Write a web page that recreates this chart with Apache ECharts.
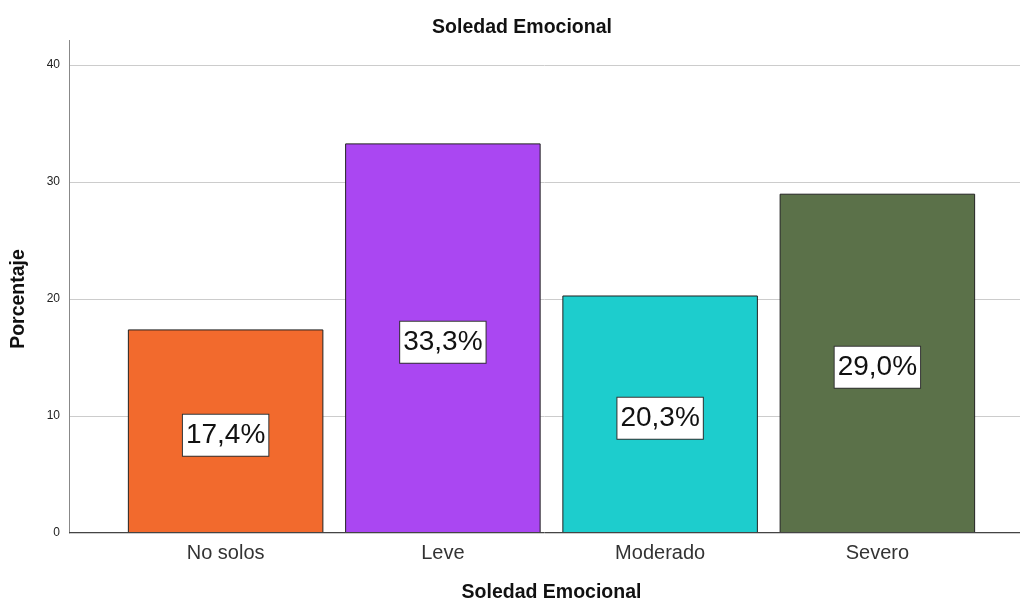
<!DOCTYPE html>
<html><head><meta charset="utf-8">
<script src="https://cdn.jsdelivr.net/npm/echarts@6/dist/echarts.min.js"></script>
<style>html,body{margin:0;padding:0;background:#fff}#c{width:1023px;height:603px}</style>
</head><body><div id="c"></div>
<script>
const categories = ['No solos', 'Leve', 'Moderado', 'Severo'];
const values = [17.4, 33.3, 20.3, 29.0];
const colors = ['#f26a2d', '#aa47f2', '#1dcdcd', '#5b7149'];
const yTicks = [0, 10, 20, 30, 40];

const chart = echarts.init(document.getElementById('c'), null, {renderer: 'canvas'});
const font = '"Liberation Sans", Arial, sans-serif';
chart.setOption({
  animation: false,
  title: {text: 'Soledad Emocional', left: 517, top: 13, textAlign: 'center',
    textStyle: {fontFamily: font, fontSize: 19.5, fontWeight: 'bold', color: '#111'}},
  grid: [
    {left: 69, right: 3, top: 65, bottom: 70, outerBoundsMode: 'none', containLabel: false},
    {left: 117, right: 37, top: 65, bottom: 70, outerBoundsMode: 'none', containLabel: false}
  ],
  xAxis: [
    {type: 'category', gridIndex: 0, data: categories, show: false},
    {type: 'category', gridIndex: 1, data: categories,
      axisLine: {show: false}, axisTick: {show: false},
      axisLabel: {fontFamily: font, fontSize: 20, color: '#333', margin: 10},
      name: 'Soledad Emocional', nameLocation: 'middle', nameGap: 50,
      nameTextStyle: {fontFamily: font, fontSize: 19.5, fontWeight: 'bold', color: '#111'}}
  ],
  yAxis: [
    {type: 'value', gridIndex: 0, min: 0, max: 40, interval: 10,
      axisLine: {show: true, lineStyle: {color: '#888', width: 1}},
      axisTick: {show: false},
      axisLabel: {fontFamily: font, fontSize: 12, color: '#222', margin: 9},
      splitLine: {show: true, lineStyle: {color: '#cccccc', width: 1}},
      name: 'Porcentaje', nameLocation: 'middle', nameGap: 40,
      nameTextStyle: {fontFamily: font, fontSize: 19.5, fontWeight: 'bold', color: '#111'}},
    {type: 'value', gridIndex: 1, min: 0, max: 40, interval: 10, show: false}
  ],
  series: [
    {type: 'bar', xAxisIndex: 1, yAxisIndex: 1, barCategoryGap: '10%',
      data: values.map((v, i) => ({value: v, itemStyle: {color: colors[i]}})),
      itemStyle: {borderColor: '#222', borderWidth: 1},
      label: {show: true, position: 'inside', offset: [0, 4],
        formatter: p => p.value.toFixed(1).replace('.', ',') + '%',
        fontFamily: font, fontSize: 28, color: '#111',
        backgroundColor: '#fff', borderColor: '#333', borderWidth: 1,
        padding: [8, 3, 5, 3]}},
    {type: 'line', xAxisIndex: 0, yAxisIndex: 0, data: [], silent: true}
  ],
  graphic: [
    {type: 'line', z: 100, shape: {x1: 69.5, y1: 40, x2: 69.5, y2: 65}, style: {stroke: '#888', lineWidth: 1}},
    {type: 'line', z: 100, shape: {x1: 69, y1: 532.5, x2: 1020, y2: 532.5}, style: {stroke: '#444', lineWidth: 1}}
  ]
});
</script></body></html>
